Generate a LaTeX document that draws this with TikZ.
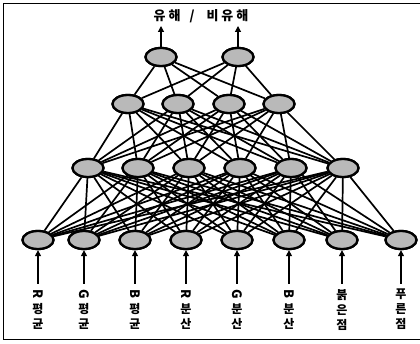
\documentclass[tikz,border=0pt]{standalone}
\usepackage{fontspec}
\usepackage{graphicx}
\newfontfamily\kr{Noto Sans CJK KR}
\usetikzlibrary{shapes.geometric,arrows.meta}
\tikzset{
  neuron/.style={ellipse,draw,line width=2.3pt,fill=gray!55,minimum width=31pt,minimum height=18pt,inner sep=0pt},
  link/.style={line width=1.7pt},
  inarrow/.style={line width=1.2pt,-{Triangle[length=6pt,width=6pt]}},
  vlabel/.style={anchor=north,align=center,inner sep=0pt,font=\kr\bfseries\fontsize{12}{15}\selectfont}
}
\newcommand{\rotl}[1]{\rotatebox[origin=c]{-90}{\fontsize{13}{15}\selectfont #1}}
\newcommand{\gapp}{\hspace{3pt}}
\begin{document}
\begin{tikzpicture}[x=1pt,y=-1pt]
\useasboundingbox (0,0) rectangle (420,344);
\draw[line width=0.8pt] (420,3) -- (3,3) -- (3,339) -- (420,339);
% layers
\node[neuron] (t1) at (161,57) {};
\node[neuron] (t2) at (238,57) {};
\foreach \i/\x in {1/128,2/178,3/229,4/279} \node[neuron] (h\i) at (\x,104) {};
\foreach \i/\x in {1/88,2/138,3/189,4/240,5/291,6/343} \node[neuron] (g\i) at (\x,168) {};
\foreach \i/\x in {1/38,2/84,3/135,4/186,5/237,6/289,7/342,8/401} \node[neuron] (b\i) at (\x,240) {};
% links
\foreach \i in {1,...,8} \foreach \j in {1,...,6} \draw[link] (b\i) -- (g\j);
\foreach \i in {1,...,6} \foreach \j in {1,...,4} \draw[link] (g\i) -- (h\j);
\foreach \i in {1,...,4} \foreach \j in {1,2} \draw[link] (h\i) -- (t\j);
% redraw nodes on top
\node[neuron] at (t1) {};
\node[neuron] at (t2) {};
\foreach \i in {1,...,4} \node[neuron] at (h\i) {};
\foreach \i in {1,...,6} \node[neuron] at (g\i) {};
\foreach \i in {1,...,8} \node[neuron] at (b\i) {};
% outputs
\node[font=\kr\bfseries\fontsize{13}{15}\selectfont] (out) at (201,16) {유\gapp 해\hspace{9pt}/\hspace{12pt}비\gapp 유\gapp 해};
\coordinate (o1) at (161,26);
\coordinate (o2) at (238,26);
\draw[inarrow] (t1) -- (o1);
\draw[inarrow] (t2) -- (o2);
% inputs
\foreach \i/\x in {1/38,2/84,3/135,4/186,5/237,6/289,7/342,8/401} {
  \coordinate (s\i) at (\x,284);
  \draw[inarrow] (s\i) -- (b\i);
}
\node[vlabel] (l1) at (38,289) {\rotl{R}\\평\\균};
\node[vlabel] (l2) at (84,289) {\rotl{G}\\평\\균};
\node[vlabel] (l3) at (135,289) {\rotl{B}\\평\\균};
\node[vlabel] (l4) at (186,289) {\rotl{R}\\분\\산};
\node[vlabel] (l5) at (237,289) {\rotl{G}\\분\\산};
\node[vlabel] (l6) at (289,289) {\rotl{B}\\분\\산};
\node[vlabel] (l7) at (342,289) {붉\\은\\점};
\node[vlabel] (l8) at (401,289) {푸\\른\\점};
\end{tikzpicture}
\end{document}
